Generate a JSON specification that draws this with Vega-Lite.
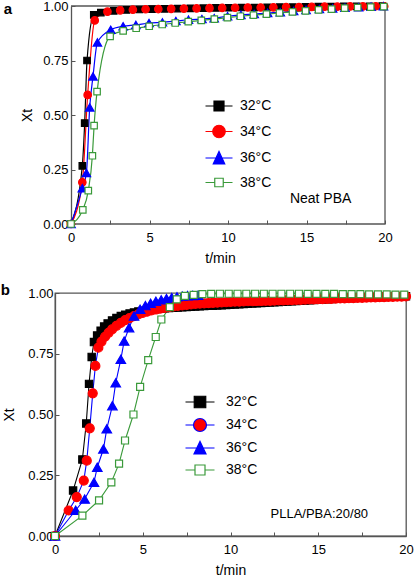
{
  "$schema": "https://vega.github.io/schema/vega-lite/v6.json",
  "padding": {"left": 0, "top": 0, "right": 0, "bottom": 0},
  "background": "white",
  "spacing": 17,
  "resolve": {"scale": {"color": "independent", "shape": "independent", "fill": "independent", "stroke": "independent", "size": "independent"}, "legend": {"shape": "independent", "fill": "independent", "stroke": "independent", "size": "independent"}},
  "config": {
    "font": "Liberation Sans",
    "view": {"stroke": "#555", "strokeWidth": 1.3},
    "axis": {"domainColor": "#555", "domainWidth": 1.3, "tickColor": "#555", "tickSize": -4, "tickWidth": 1, "labelFont": "Liberation Sans", "labelFontSize": 13, "labelColor": "#000", "titleFont": "Liberation Sans", "titleFontSize": 14, "titleFontWeight": "normal", "titleColor": "#000", "grid": false, "labelFlush": false, "labelOverlap": false},
    "legend": {"padding": 0, "labelFont": "Liberation Sans", "labelFontSize": 14, "labelColor": "#000", "symbolSize": 100, "symbolStrokeWidth": 1.2}
  },
  "vconcat": [
    {
      "title": {"text": "a", "anchor": "start", "frame": "bounds", "fontSize": 15, "fontWeight": "bold", "font": "Liberation Sans", "offset": -16.5, "dx": -17},
      "width": 330,
      "height": 218,
      "view": {"stroke": null},
      "layer": [
        {
          "data": {"values": [{}]},
          "layer": [
            {"mark": {"type": "rule", "color": "#555", "strokeWidth": 1.3}, "encoding": {"x": {"datum": 0, "type": "quantitative"}, "x2": {"datum": 20}, "y": {"datum": 1, "type": "quantitative"}}},
            {"mark": {"type": "rule", "color": "#555", "strokeWidth": 1.3}, "encoding": {"x": {"datum": 0, "type": "quantitative"}, "x2": {"datum": 20}, "y": {"datum": 0, "type": "quantitative"}}},
            {"mark": {"type": "rule", "color": "#555", "strokeWidth": 1.3}, "encoding": {"x": {"datum": 20, "type": "quantitative"}, "y": {"datum": 0, "type": "quantitative"}, "y2": {"datum": 1}}}
          ]
        },
        {
          "data": {"values": [
            {"s":"32°C","t":0,"v":0},{"s":"32°C","t":0.72,"v":0.267},{"s":"32°C","t":0.87,"v":0.463},{"s":"32°C","t":1.02,"v":0.75},{"s":"32°C","t":1.45,"v":0.959},{"s":"32°C","t":1.9,"v":0.97},{"s":"32°C","t":2.72,"v":0.978},{"s":"32°C","t":3.53,"v":0.982},{"s":"32°C","t":4.35,"v":0.984},{"s":"32°C","t":5.16,"v":0.986},{"s":"32°C","t":5.97,"v":0.987},{"s":"32°C","t":6.79,"v":0.988},{"s":"32°C","t":7.6,"v":0.989},{"s":"32°C","t":8.42,"v":0.99},{"s":"32°C","t":9.23,"v":0.991},{"s":"32°C","t":10.05,"v":0.992},{"s":"32°C","t":10.86,"v":0.993},{"s":"32°C","t":11.68,"v":0.993},{"s":"32°C","t":12.49,"v":0.994},{"s":"32°C","t":13.3,"v":0.995},{"s":"32°C","t":14.12,"v":0.995},{"s":"32°C","t":14.93,"v":0.996},{"s":"32°C","t":15.75,"v":0.997},{"s":"32°C","t":16.56,"v":0.997},{"s":"32°C","t":17.38,"v":0.998},{"s":"32°C","t":18.19,"v":0.998},{"s":"32°C","t":19.01,"v":0.999},{"s":"32°C","t":19.82,"v":1.0},
            {"s":"34°C","t":0,"v":0},{"s":"34°C","t":0.72,"v":0.191},{"s":"34°C","t":1.06,"v":0.592},{"s":"34°C","t":1.51,"v":0.934},{"s":"34°C","t":2.32,"v":0.974},{"s":"34°C","t":3.13,"v":0.98},{"s":"34°C","t":3.94,"v":0.983},{"s":"34°C","t":4.75,"v":0.985},{"s":"34°C","t":5.56,"v":0.986},{"s":"34°C","t":6.38,"v":0.987},{"s":"34°C","t":7.19,"v":0.988},{"s":"34°C","t":8.0,"v":0.989},{"s":"34°C","t":8.82,"v":0.99},{"s":"34°C","t":9.63,"v":0.991},{"s":"34°C","t":10.45,"v":0.992},{"s":"34°C","t":11.26,"v":0.993},{"s":"34°C","t":12.08,"v":0.993},{"s":"34°C","t":12.89,"v":0.994},{"s":"34°C","t":13.7,"v":0.995},{"s":"34°C","t":14.52,"v":0.995},{"s":"34°C","t":15.33,"v":0.996},{"s":"34°C","t":16.15,"v":0.997},{"s":"34°C","t":16.96,"v":0.997},{"s":"34°C","t":17.78,"v":0.998},{"s":"34°C","t":18.59,"v":0.998},{"s":"34°C","t":19.41,"v":0.999},{"s":"34°C","t":19.95,"v":0.999},
            {"s":"36°C","t":0,"v":0},{"s":"36°C","t":0.72,"v":0.164},{"s":"36°C","t":0.98,"v":0.234},{"s":"36°C","t":1.19,"v":0.535},{"s":"36°C","t":1.4,"v":0.677},{"s":"36°C","t":1.68,"v":0.833},{"s":"36°C","t":2.53,"v":0.891},{"s":"36°C","t":3.32,"v":0.907},{"s":"36°C","t":4.13,"v":0.913},{"s":"36°C","t":4.97,"v":0.922},{"s":"36°C","t":5.82,"v":0.925},{"s":"36°C","t":6.68,"v":0.931},{"s":"36°C","t":7.48,"v":0.937},{"s":"36°C","t":8.34,"v":0.94},{"s":"36°C","t":9.12,"v":0.944},{"s":"36°C","t":9.97,"v":0.953},{"s":"36°C","t":10.82,"v":0.959},{"s":"36°C","t":11.67,"v":0.963},{"s":"36°C","t":12.52,"v":0.968},{"s":"36°C","t":13.33,"v":0.971},{"s":"36°C","t":14.18,"v":0.977},{"s":"36°C","t":14.97,"v":0.982},{"s":"36°C","t":15.82,"v":0.986},{"s":"36°C","t":16.66,"v":0.989},{"s":"36°C","t":17.45,"v":0.992},{"s":"36°C","t":18.32,"v":0.994},{"s":"36°C","t":19.11,"v":0.997},{"s":"36°C","t":19.9,"v":0.999},
            {"s":"38°C","t":0,"v":0},{"s":"38°C","t":0.75,"v":0.065},{"s":"38°C","t":1.1,"v":0.153},{"s":"38°C","t":1.36,"v":0.313},{"s":"38°C","t":1.47,"v":0.451},{"s":"38°C","t":1.66,"v":0.607},{"s":"38°C","t":2.49,"v":0.861},{"s":"38°C","t":3.32,"v":0.886},{"s":"38°C","t":4.15,"v":0.898},{"s":"38°C","t":4.98,"v":0.907},{"s":"38°C","t":5.81,"v":0.915},{"s":"38°C","t":6.64,"v":0.922},{"s":"38°C","t":7.47,"v":0.928},{"s":"38°C","t":8.3,"v":0.934},{"s":"38°C","t":9.13,"v":0.94},{"s":"38°C","t":9.96,"v":0.947},{"s":"38°C","t":10.79,"v":0.953},{"s":"38°C","t":11.62,"v":0.958},{"s":"38°C","t":12.45,"v":0.963},{"s":"38°C","t":13.28,"v":0.968},{"s":"38°C","t":14.11,"v":0.973},{"s":"38°C","t":14.94,"v":0.978},{"s":"38°C","t":15.77,"v":0.982},{"s":"38°C","t":16.6,"v":0.986},{"s":"38°C","t":17.43,"v":0.99},{"s":"38°C","t":18.26,"v":0.993},{"s":"38°C","t":19.09,"v":0.995},{"s":"38°C","t":19.92,"v":0.997}
          ]},
          "layer": [
            {
              "mark": {"type": "line", "interpolate": "monotone", "strokeWidth": 1.2},
              "encoding": {
                "x": {"field": "t", "type": "quantitative", "scale": {"domain": [-1.0204, 20], "nice": false, "zero": false}, "axis": {"values": [0,2.5,5,7.5,10,12.5,15,17.5,20], "labelExpr": "datum.value % 5 === 0 ? datum.label : ''", "title": "t/min", "domain": false, "labelPadding": 11, "titlePadding": 7}},
                "y": {"field": "v", "type": "quantitative", "scale": {"domain": [0, 1], "nice": false}, "axis": {"offset": -16, "values": [0,0.125,0.25,0.375,0.5,0.625,0.75,0.875,1], "format": ".2f", "labelExpr": "(datum.value*8) % 2 === 0 ? datum.label : ''", "title": "Xt", "labelPadding": 7, "titlePadding": 8}},
                "color": {"field": "s", "type": "nominal", "scale": {"domain": ["38°C","36°C","34°C","32°C"], "range": ["#3a9a3a","#0000ff","#ff0000","#000000"]}, "legend": null}
              }
            },
            {
              "mark": {"type": "point", "filled": true, "opacity": 1, "strokeWidth": 1.2},
              "encoding": {
                "x": {"field": "t", "type": "quantitative"},
                "y": {"field": "v", "type": "quantitative"},
                "fill": {"field": "s", "type": "nominal", "scale": {"domain": ["32°C","34°C","36°C","38°C"], "range": ["#000000","#ff0000","#0000ff","#ffffff"]},
                  "legend": {"orient": "none", "legendX": 157, "legendY": 93, "title": null, "rowPadding": 8.5, "labelOffset": 14,
                    "encoding": {"symbols": {
                      "shape": {"condition": [
                        {"test": "datum.value === '32°C'", "value": "M-2.7,0H2.7M-1,-1H1V1H-1Z"},
                        {"test": "datum.value === '34°C'", "value": "M-2.7,0H2.7M-1.25,0A1.25,1.25,0,1,0,1.25,0A1.25,1.25,0,1,0,-1.25,0Z"},
                        {"test": "datum.value === '36°C'", "value": "M-2.7,0H2.7M-1.15,1.2L1.15,1.2L0,-1.3Z"}],
                        "value": "M-2.7,0H-0.85M0.85,0H2.7M-0.85,-0.85H0.85V0.85H-0.85Z"},
                      "stroke": {"condition": [
                        {"test": "datum.value === '32°C'", "value": "#000000"},
                        {"test": "datum.value === '34°C'", "value": "#ff0000"},
                        {"test": "datum.value === '36°C'", "value": "#0000ff"}], "value": "#3a9a3a"},
                      "size": {"value": 100},
                      "strokeWidth": {"value": 1.2},
                      "opacity": {"value": 1}
                    }}}},
                "shape": {"field": "s", "type": "nominal", "scale": {"domain": ["34°C","32°C","36°C","38°C"], "range": ["circle","square","triangle-up","square"]}, "legend": null},
                "stroke": {"field": "s", "type": "nominal", "scale": {"domain": ["36°C","32°C","34°C","38°C"], "range": ["#0000ff","#000000","#ff0000","#3a9a3a"]}, "legend": null},
                "size": {"field": "s", "type": "nominal", "scale": {"type": "ordinal", "domain": ["38°C","32°C","34°C","36°C"], "range": [42, 42, 56, 72]}, "legend": null}
              }
            }
          ]
        },
        {
          "data": {"values": [{"t": 15.9, "v": 0.115, "label": "Neat PBA"}]},
          "mark": {"type": "text", "font": "Liberation Sans", "fontSize": 14, "color": "#000"},
          "encoding": {"x": {"field": "t", "type": "quantitative"}, "y": {"field": "v", "type": "quantitative"}, "text": {"field": "label"}}
        }
      ]
    },
    {
      "title": {"text": "b", "anchor": "start", "frame": "bounds", "fontSize": 15, "fontWeight": "bold", "font": "Liberation Sans", "offset": -11, "dx": -2},
      "width": 351,
      "height": 243,
      "layer": [
        {
          "data": {"values": [
            {"s":"32°C","t":0,"v":0},{"s":"32°C","t":1.03,"v":0.187},{"s":"32°C","t":1.56,"v":0.315},{"s":"32°C","t":1.78,"v":0.463},{"s":"32°C","t":1.94,"v":0.626},{"s":"32°C","t":2.09,"v":0.737},{"s":"32°C","t":2.22,"v":0.798},{"s":"32°C","t":2.4,"v":0.825},{"s":"32°C","t":2.6,"v":0.845},{"s":"32°C","t":2.8,"v":0.862},{"s":"32°C","t":3.0,"v":0.875},{"s":"32°C","t":3.25,"v":0.887},{"s":"32°C","t":3.5,"v":0.897},{"s":"32°C","t":3.75,"v":0.905},{"s":"32°C","t":4.0,"v":0.911},{"s":"32°C","t":4.25,"v":0.916},{"s":"32°C","t":4.5,"v":0.92},{"s":"32°C","t":4.75,"v":0.924},{"s":"32°C","t":5.0,"v":0.927},{"s":"32°C","t":5.25,"v":0.93},{"s":"32°C","t":5.5,"v":0.932},{"s":"32°C","t":5.75,"v":0.934},{"s":"32°C","t":6.0,"v":0.936},{"s":"32°C","t":6.25,"v":0.937},{"s":"32°C","t":6.5,"v":0.938},{"s":"32°C","t":6.75,"v":0.939},{"s":"32°C","t":7.0,"v":0.94},{"s":"32°C","t":7.25,"v":0.941},{"s":"32°C","t":7.5,"v":0.942},{"s":"32°C","t":7.75,"v":0.943},{"s":"32°C","t":8.0,"v":0.944},{"s":"32°C","t":8.25,"v":0.945},{"s":"32°C","t":8.5,"v":0.946},{"s":"32°C","t":8.75,"v":0.947},{"s":"32°C","t":9.0,"v":0.948},{"s":"32°C","t":9.25,"v":0.949},{"s":"32°C","t":9.5,"v":0.95},{"s":"32°C","t":9.75,"v":0.951},{"s":"32°C","t":10.0,"v":0.952},{"s":"32°C","t":10.25,"v":0.953},{"s":"32°C","t":10.5,"v":0.954},{"s":"32°C","t":10.75,"v":0.955},{"s":"32°C","t":11.0,"v":0.956},{"s":"32°C","t":11.25,"v":0.957},{"s":"32°C","t":11.5,"v":0.958},{"s":"32°C","t":11.75,"v":0.959},{"s":"32°C","t":12.0,"v":0.96},{"s":"32°C","t":12.25,"v":0.961},{"s":"32°C","t":12.5,"v":0.962},{"s":"32°C","t":12.75,"v":0.963},{"s":"32°C","t":13.0,"v":0.964},{"s":"32°C","t":13.25,"v":0.965},{"s":"32°C","t":13.5,"v":0.966},{"s":"32°C","t":13.75,"v":0.967},{"s":"32°C","t":14.0,"v":0.968},{"s":"32°C","t":14.25,"v":0.969},{"s":"32°C","t":14.5,"v":0.97},{"s":"32°C","t":14.75,"v":0.971},{"s":"32°C","t":15.0,"v":0.972},{"s":"32°C","t":15.25,"v":0.973},{"s":"32°C","t":15.5,"v":0.974},{"s":"32°C","t":15.75,"v":0.975},{"s":"32°C","t":16.0,"v":0.976},{"s":"32°C","t":16.25,"v":0.977},{"s":"32°C","t":16.5,"v":0.978},{"s":"32°C","t":16.75,"v":0.979},{"s":"32°C","t":17.0,"v":0.979},{"s":"32°C","t":17.25,"v":0.98},{"s":"32°C","t":17.5,"v":0.981},{"s":"32°C","t":17.75,"v":0.981},{"s":"32°C","t":18.0,"v":0.982},{"s":"32°C","t":18.25,"v":0.983},{"s":"32°C","t":18.5,"v":0.983},{"s":"32°C","t":18.75,"v":0.984},{"s":"32°C","t":19.0,"v":0.985},{"s":"32°C","t":19.25,"v":0.985},{"s":"32°C","t":19.5,"v":0.986},{"s":"32°C","t":19.75,"v":0.987},{"s":"32°C","t":20.0,"v":0.987},
            {"s":"34°C","t":0,"v":0},{"s":"34°C","t":0.78,"v":0.105},{"s":"34°C","t":1.24,"v":0.16},{"s":"34°C","t":1.64,"v":0.228},{"s":"34°C","t":1.81,"v":0.31},{"s":"34°C","t":1.98,"v":0.443},{"s":"34°C","t":2.15,"v":0.587},{"s":"34°C","t":2.3,"v":0.7},{"s":"34°C","t":2.47,"v":0.775},{"s":"34°C","t":2.65,"v":0.8},{"s":"34°C","t":2.85,"v":0.82},{"s":"34°C","t":3.05,"v":0.836},{"s":"34°C","t":3.25,"v":0.85},{"s":"34°C","t":3.5,"v":0.865},{"s":"34°C","t":3.75,"v":0.877},{"s":"34°C","t":4.0,"v":0.888},{"s":"34°C","t":4.25,"v":0.897},{"s":"34°C","t":4.5,"v":0.905},{"s":"34°C","t":4.75,"v":0.912},{"s":"34°C","t":5.0,"v":0.918},{"s":"34°C","t":5.25,"v":0.923},{"s":"34°C","t":5.5,"v":0.928},{"s":"34°C","t":5.75,"v":0.932},{"s":"34°C","t":6.0,"v":0.936},{"s":"34°C","t":6.25,"v":0.939},{"s":"34°C","t":6.5,"v":0.942},{"s":"34°C","t":6.75,"v":0.945},{"s":"34°C","t":7.0,"v":0.947},{"s":"34°C","t":7.25,"v":0.949},{"s":"34°C","t":7.5,"v":0.951},{"s":"34°C","t":7.75,"v":0.953},{"s":"34°C","t":8.0,"v":0.955},{"s":"34°C","t":8.25,"v":0.956},{"s":"34°C","t":8.5,"v":0.957},{"s":"34°C","t":8.75,"v":0.958},{"s":"34°C","t":9.0,"v":0.959},{"s":"34°C","t":9.25,"v":0.96},{"s":"34°C","t":9.5,"v":0.961},{"s":"34°C","t":9.75,"v":0.962},{"s":"34°C","t":10.0,"v":0.963},{"s":"34°C","t":10.25,"v":0.964},{"s":"34°C","t":10.5,"v":0.964},{"s":"34°C","t":10.75,"v":0.965},{"s":"34°C","t":11.0,"v":0.966},{"s":"34°C","t":11.25,"v":0.966},{"s":"34°C","t":11.5,"v":0.967},{"s":"34°C","t":11.75,"v":0.967},{"s":"34°C","t":12.0,"v":0.968},{"s":"34°C","t":12.25,"v":0.968},{"s":"34°C","t":12.5,"v":0.969},{"s":"34°C","t":12.75,"v":0.97},{"s":"34°C","t":13.0,"v":0.97},{"s":"34°C","t":13.25,"v":0.971},{"s":"34°C","t":13.5,"v":0.971},{"s":"34°C","t":13.75,"v":0.972},{"s":"34°C","t":14.0,"v":0.972},{"s":"34°C","t":14.25,"v":0.973},{"s":"34°C","t":14.5,"v":0.974},{"s":"34°C","t":14.75,"v":0.974},{"s":"34°C","t":15.0,"v":0.975},{"s":"34°C","t":15.25,"v":0.975},{"s":"34°C","t":15.5,"v":0.976},{"s":"34°C","t":15.75,"v":0.976},{"s":"34°C","t":16.0,"v":0.977},{"s":"34°C","t":16.25,"v":0.978},{"s":"34°C","t":16.5,"v":0.978},{"s":"34°C","t":16.75,"v":0.979},{"s":"34°C","t":17.0,"v":0.979},{"s":"34°C","t":17.25,"v":0.98},{"s":"34°C","t":17.5,"v":0.98},{"s":"34°C","t":17.75,"v":0.981},{"s":"34°C","t":18.0,"v":0.982},{"s":"34°C","t":18.25,"v":0.982},{"s":"34°C","t":18.5,"v":0.983},{"s":"34°C","t":18.75,"v":0.983},{"s":"34°C","t":19.0,"v":0.984},{"s":"34°C","t":19.25,"v":0.984},{"s":"34°C","t":19.5,"v":0.985},{"s":"34°C","t":19.75,"v":0.985},{"s":"34°C","t":20.0,"v":0.986},
            {"s":"36°C","t":0,"v":0},{"s":"36°C","t":1.18,"v":0.106},{"s":"36°C","t":1.69,"v":0.152},{"s":"36°C","t":2.22,"v":0.221},{"s":"36°C","t":2.41,"v":0.283},{"s":"36°C","t":2.76,"v":0.358},{"s":"36°C","t":2.95,"v":0.441},{"s":"36°C","t":3.27,"v":0.536},{"s":"36°C","t":3.46,"v":0.63},{"s":"36°C","t":3.75,"v":0.727},{"s":"36°C","t":3.94,"v":0.802},{"s":"36°C","t":4.22,"v":0.857},{"s":"36°C","t":4.5,"v":0.905},{"s":"36°C","t":4.85,"v":0.933},{"s":"36°C","t":5.15,"v":0.948},{"s":"36°C","t":5.45,"v":0.958},{"s":"36°C","t":5.75,"v":0.966},{"s":"36°C","t":6.05,"v":0.972},{"s":"36°C","t":6.35,"v":0.977},{"s":"36°C","t":6.65,"v":0.981},{"s":"36°C","t":6.95,"v":0.984},{"s":"36°C","t":7.25,"v":0.987},{"s":"36°C","t":7.55,"v":0.989},{"s":"36°C","t":7.85,"v":0.99},{"s":"36°C","t":8.15,"v":0.991},
            {"s":"38°C","t":0,"v":0},{"s":"38°C","t":1.56,"v":0.084},{"s":"38°C","t":2.51,"v":0.147},{"s":"38°C","t":3.21,"v":0.221},{"s":"38°C","t":3.65,"v":0.298},{"s":"38°C","t":3.99,"v":0.393},{"s":"38°C","t":4.47,"v":0.5},{"s":"38°C","t":4.85,"v":0.614},{"s":"38°C","t":5.31,"v":0.724},{"s":"38°C","t":5.74,"v":0.819},{"s":"38°C","t":6.06,"v":0.891},{"s":"38°C","t":6.54,"v":0.942},{"s":"38°C","t":6.94,"v":0.974},{"s":"38°C","t":7.4,"v":0.988},{"s":"38°C","t":7.9,"v":0.992},{"s":"38°C","t":8.4,"v":0.995},{"s":"38°C","t":8.9,"v":0.996},{"s":"38°C","t":9.4,"v":0.997},{"s":"38°C","t":9.9,"v":0.997},{"s":"38°C","t":10.4,"v":0.997},{"s":"38°C","t":10.9,"v":0.997},{"s":"38°C","t":11.4,"v":0.997},{"s":"38°C","t":11.9,"v":0.997},{"s":"38°C","t":12.4,"v":0.997},{"s":"38°C","t":12.9,"v":0.997},{"s":"38°C","t":13.4,"v":0.997},{"s":"38°C","t":13.9,"v":0.997},{"s":"38°C","t":14.4,"v":0.996},{"s":"38°C","t":14.9,"v":0.996},{"s":"38°C","t":15.4,"v":0.996},{"s":"38°C","t":15.9,"v":0.996},{"s":"38°C","t":16.4,"v":0.995},{"s":"38°C","t":16.9,"v":0.995},{"s":"38°C","t":17.4,"v":0.995},{"s":"38°C","t":17.9,"v":0.994},{"s":"38°C","t":18.4,"v":0.994},{"s":"38°C","t":18.9,"v":0.994},{"s":"38°C","t":19.4,"v":0.993},{"s":"38°C","t":19.9,"v":0.993}
          ]},
          "layer": [
            {
              "mark": {"type": "line", "interpolate": "linear", "strokeWidth": 1.1},
              "encoding": {
                "x": {"field": "t", "type": "quantitative", "scale": {"domain": [0, 20], "nice": false}, "axis": {"values": [0,2.5,5,7.5,10,12.5,15,17.5,20], "labelExpr": "datum.value % 5 === 0 ? datum.label : ''", "title": "t/min", "labelPadding": 11, "titlePadding": 7}},
                "y": {"field": "v", "type": "quantitative", "scale": {"domain": [0, 1], "nice": false}, "axis": {"values": [0,0.125,0.25,0.375,0.5,0.625,0.75,0.875,1], "format": ".2f", "labelExpr": "(datum.value*8) % 2 === 0 ? datum.label : ''", "title": "Xt", "labelPadding": 6, "titlePadding": 11}},
                "color": {"field": "s", "type": "nominal", "scale": {"domain": ["38°C","36°C","34°C","32°C"], "range": ["#3a9a3a","#0000ff","#0000ff","#000000"]}, "legend": null}
              }
            },
            {
              "mark": {"type": "point", "filled": true, "opacity": 1, "strokeWidth": 1.2},
              "encoding": {
                "x": {"field": "t", "type": "quantitative"},
                "y": {"field": "v", "type": "quantitative"},
                "fill": {"field": "s", "type": "nominal", "scale": {"domain": ["32°C","34°C","36°C","38°C"], "range": ["#000000","#ff0000","#0000ff","#ffffff"]},
                  "legend": {"orient": "none", "legendX": 138, "legendY": 102, "title": null, "rowPadding": 5, "labelOffset": 19,
                    "encoding": {"symbols": {
                      "shape": {"condition": [
                        {"test": "datum.value === '32°C'", "value": "M-2.9,0H2.9M-1.15,-1.15H1.15V1.15H-1.15Z"},
                        {"test": "datum.value === '34°C'", "value": "M-2.9,0H-1.3M1.3,0H2.9M-1.3,0A1.3,1.3,0,1,0,1.3,0A1.3,1.3,0,1,0,-1.3,0Z"},
                        {"test": "datum.value === '36°C'", "value": "M-2.9,0H2.9M-1.2,1.2L1.2,1.2L0,-1.3Z"}],
                        "value": "M-2.9,0H-1M1,0H2.9M-1,-1H1V1H-1Z"},
                      "stroke": {"condition": [
                        {"test": "datum.value === '32°C'", "value": "#000000"},
                        {"test": "datum.value === '34°C'", "value": "#0000ff"},
                        {"test": "datum.value === '36°C'", "value": "#0000ff"}], "value": "#3a9a3a"},
                      "size": {"value": 100},
                      "strokeWidth": {"value": 1.2},
                      "opacity": {"value": 1}
                    }}}},
                "shape": {"field": "s", "type": "nominal", "scale": {"domain": ["34°C","32°C","36°C","38°C"], "range": ["circle","square","triangle-up","square"]}, "legend": null},
                "stroke": {"field": "s", "type": "nominal", "scale": {"domain": ["36°C","32°C","34°C","38°C"], "range": ["#0000ff","#000000","#ff0000","#3a9a3a"]}, "legend": null},
                "size": {"field": "s", "type": "nominal", "scale": {"type": "ordinal", "domain": ["38°C","32°C","34°C","36°C"], "range": [49, 53, 81, 90]}, "legend": null}
              }
            }
          ]
        },
        {
          "data": {"values": [{"t": 15.06, "v": 0.09, "label": "PLLA/PBA:20/80"}]},
          "mark": {"type": "text", "font": "Liberation Sans", "fontSize": 13, "color": "#000"},
          "encoding": {"x": {"field": "t", "type": "quantitative"}, "y": {"field": "v", "type": "quantitative"}, "text": {"field": "label"}}
        }
      ]
    }
  ]
}
